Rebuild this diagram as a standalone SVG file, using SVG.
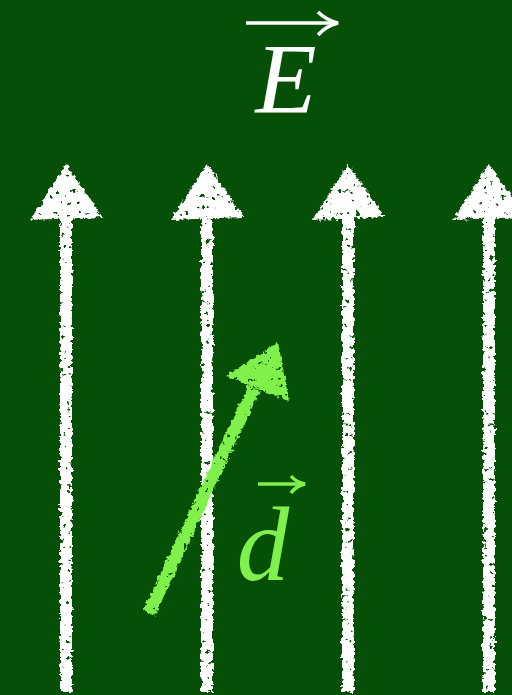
<svg xmlns="http://www.w3.org/2000/svg" width="512" height="695" viewBox="0 0 512 695">
<defs>
<filter id="chalk" x="-10%" y="-5%" width="120%" height="110%">
<feTurbulence type="fractalNoise" baseFrequency="0.25" numOctaves="3" seed="3" result="n"/>
<feDisplacementMap in="SourceGraphic" in2="n" scale="6" xChannelSelector="R" yChannelSelector="G" result="d"/>
<feTurbulence type="fractalNoise" baseFrequency="0.18" numOctaves="3" seed="11" result="h"/>
<feColorMatrix in="h" type="matrix" values="0 0 0 0 0  0 0 0 0 0  0 0 0 0 0  -14 0 0 0 10.6" result="hm"/>
<feComposite in="d" in2="hm" operator="in"/>
</filter>
<style>
.bg{fill:#064f06}
.w{fill:#ffffff}
.ws{stroke:#ffffff;stroke-width:12;fill:none}
.g{fill:#80f04c}
.gs{stroke:#80f04c;stroke-width:13;fill:none}
.lblw{font-family:"Liberation Serif",serif;font-style:italic;fill:#ffffff}
.lblg{font-family:"Liberation Serif",serif;font-style:italic;fill:#80f04c}
</style>
</defs>
<rect class="bg" x="0" y="0" width="512" height="695"/>
<g id="field-lines" filter="url(#chalk)">
<g id="line1"><line class="ws" x1="66" y1="205" x2="66" y2="692"/><polygon class="w" points="66,164 30,220 103,217"/></g>
<g id="line2"><line class="ws" x1="207" y1="205" x2="207" y2="692"/><polygon class="w" points="207,164 171,220 244,217"/></g>
<g id="line3"><line class="ws" x1="348" y1="205" x2="348" y2="692"/><polygon class="w" points="348,164 312,220 385,217"/></g>
<g id="line4"><line class="ws" x1="489" y1="205" x2="489" y2="692"/><polygon class="w" points="489,164 453,220 526,217"/></g>
</g>
<g id="displacement" filter="url(#chalk)">
<line class="gs" x1="149" y1="613" x2="254" y2="388"/>
<polygon class="g" points="278,342 226,376 289,401"/>
</g>
<g id="label-E">
<text class="lblw" x="286" y="112" font-size="100" text-anchor="middle">E</text>
<line x1="246" y1="23" x2="334" y2="23" stroke="#ffffff" stroke-width="3.5"/>
<path d="M318,12 Q326,20 338,23 Q326,26 318,35" fill="none" stroke="#ffffff" stroke-width="3.5"/>
</g>
<g id="label-d">
<text class="lblg" x="263" y="580" font-size="105" text-anchor="middle">d</text>
<line x1="258" y1="484" x2="302" y2="484" stroke="#80f04c" stroke-width="3.5"/>
<path d="M291,476 Q296,482 305,484 Q296,486 291,493" fill="none" stroke="#80f04c" stroke-width="3.5"/>
</g>
</svg>
